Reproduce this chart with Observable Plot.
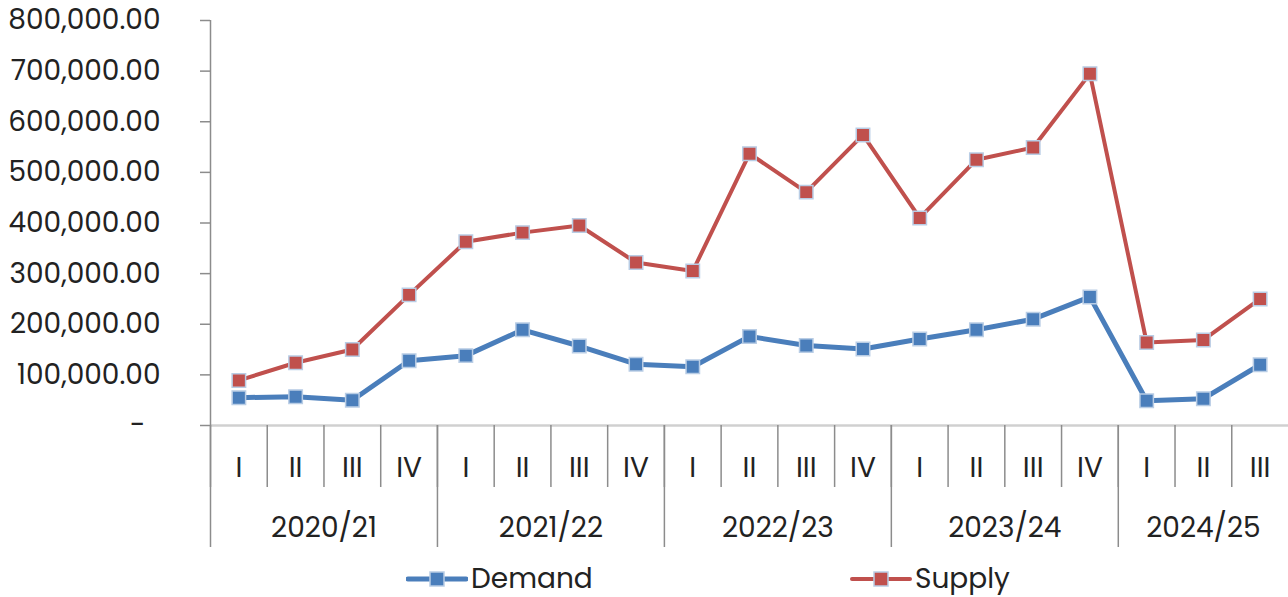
<!DOCTYPE html>
<html>
<head>
<meta charset="utf-8">
<script src="https://cdn.jsdelivr.net/npm/d3@7"></script>
<script src="https://cdn.jsdelivr.net/npm/@observablehq/plot@0.6"></script>
<style>
  html, body { margin: 0; padding: 0; background: #fff; }
  #chart { width: 1288px; height: 560px; }
  #legend { position: relative; width: 1288px; height: 37px; font-family: Poppins, Inter, sans-serif; font-size: 28px; color: #222; }
  .item { position: absolute; top: 0; height: 37px; display: flex; align-items: center; }
  .item svg { display: block; margin-right: 3px; }
</style>
</head>
<body>
<div id="chart"></div>
<div id="legend"></div>
<script>
// ---- data ----
const years = ["2020/21", "2021/22", "2022/23", "2023/24", "2024/25"];
const quartersPerYear = [4, 4, 4, 4, 3];
const quarterNames = ["I", "II", "III", "IV"];
const demand = [55000, 57000, 50000, 128000, 138000, 189000, 157000, 121000, 116000, 176000, 158000, 151000, 171000, 189000, 210000, 254000, 49000, 53000, 120000];
const supply = [89000, 124000, 150000, 258000, 363000, 381000, 395000, 322000, 305000, 537000, 461000, 574000, 410000, 525000, 549000, 695000, 164000, 169000, 250000];
const yTicks = [0, 100000, 200000, 300000, 400000, 500000, 600000, 700000, 800000];
const seriesNames = ["Demand", "Supply"];
const seriesColors = ["#4a7ebb", "#c0504d"];
const markerStroke = "#b9cde5";

// ---- build table ----
const periods = [];
years.forEach((yr, yi) => {
  for (let q = 0; q < quartersPerYear[yi]; q++) periods.push({year: yr, quarter: quarterNames[q]});
});
const n = periods.length;
const rows = [];
periods.forEach((p, i) => {
  rows.push({series: "Demand", i: i + 0.5, value: demand[i]});
  rows.push({series: "Supply", i: i + 0.5, value: supply[i]});
});
const quarterCenters = periods.map((p, i) => i + 0.5);
const quarterBounds = periods.map((p, i) => i);
const yearBounds = [];
const yearCenters = [];
let acc = 0;
quartersPerYear.forEach(c => { yearBounds.push(acc); yearCenters.push(acc + c / 2); acc += c; });

const fmt = d3.format(",.2f");
const font = "Poppins, Inter, sans-serif";
const fs = 28;

const chart = Plot.plot({
  width: 1288,
  height: 560,
  marginTop: 20,
  marginLeft: 210,
  marginRight: 0,
  marginBottom: 135,
  style: {fontFamily: font, fontSize: fs + "px", color: "#222", background: "#fff"},
  x: {type: "linear", domain: [0, n], axis: null},
  y: {domain: [0, 800000], axis: null},
  marks: [
    Plot.axisY({ticks: yTicks, tickSize: 10, tickPadding: 40, stroke: "#8c8c8c", strokeWidth: 1.5, fill: "#222", fontSize: fs,
      tickFormat: d => d === 0 ? "-\u00a0\u00a0" : fmt(d), label: null}),
    Plot.ruleY([0], {stroke: "#d0d0d0", strokeWidth: 2.5}),
    Plot.ruleX([0], {stroke: "#8c8c8c", strokeWidth: 1.5}),
    Plot.axisX({ticks: quarterBounds, tickSize: 62, tickFormat: () => "", stroke: "#8c8c8c", strokeWidth: 1.5, label: null}),
    Plot.axisX({ticks: yearBounds, tickSize: 122, tickFormat: () => "", stroke: "#8c8c8c", strokeWidth: 1.5, label: null}),
    Plot.axisX({ticks: quarterCenters, tickSize: 0, tickPadding: 32, fontSize: fs, fill: "#222", label: null,
      tickFormat: d => periods[Math.floor(d)].quarter}),
    Plot.axisX({ticks: yearCenters, tickSize: 0, tickPadding: 92, fontSize: fs, fill: "#222", label: null,
      tickFormat: d => years[yearCenters.indexOf(d)]}),
    Plot.line(rows.filter(r => r.series === "Demand"), {x: "i", y: "value", stroke: seriesColors[0], strokeWidth: 5}),
    Plot.line(rows.filter(r => r.series === "Supply"), {x: "i", y: "value", stroke: seriesColors[1], strokeWidth: 4}),
    Plot.dot(rows, {x: "i", y: "value", symbol: "square", r: 7.6, fill: d => seriesColors[seriesNames.indexOf(d.series)], stroke: markerStroke, strokeWidth: 1.5})
  ]
});
document.getElementById("chart").appendChild(chart);

// ---- legend ----
const legendLeft = [406, 850];
const legend = document.getElementById("legend");
seriesNames.forEach((name, k) => {
  const item = document.createElement("div");
  item.className = "item";
  item.style.left = legendLeft[k] + "px";
  const c = seriesColors[k];
  item.innerHTML = `<svg width="62" height="20"><line x1="2" y1="10" x2="60" y2="10" stroke="${c}" stroke-width="${k === 0 ? 5 : 4}" stroke-linecap="round"/><rect x="24" y="3" width="14" height="14" fill="${c}" stroke="${markerStroke}" stroke-width="1.5"/></svg><span>${name}</span>`;
  legend.appendChild(item);
});
</script>
</body>
</html>
